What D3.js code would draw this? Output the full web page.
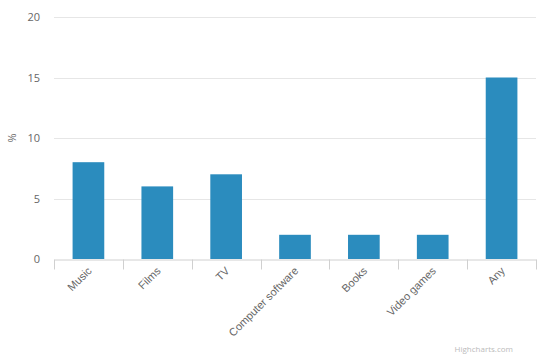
<!DOCTYPE html>
<html>
<head>
<meta charset="utf-8">
<script src="https://cdn.jsdelivr.net/npm/d3@7"></script>
<style>
  body { margin: 0; background: #fff; }
  svg { font-family: "Open Sans", sans-serif; display: block; }
</style>
</head>
<body>
<script>
const categories = ["Music", "Films", "TV", "Computer software", "Books", "Video games", "Any"];
const values = [8, 6, 7, 2, 2, 2, 15];
const yTicks = [0, 5, 10, 15, 20];

const w = 547;
const h = 354;
const margin = { top: 17, right: 11, bottom: 95, left: 54 };

const svg = d3.select("body")
  .append("svg")
  .attr("width", w)
  .attr("height", h);

const xScale = d3.scaleBand()
  .domain(categories)
  .range([margin.left, w - margin.right])
  .paddingInner(0.54)
  .paddingOuter(0.27);

const yScale = d3.scaleLinear()
  .domain([0, 20])
  .range([h - margin.bottom, margin.top]);

// gridlines
svg.append("g")
  .selectAll("line")
  .data(yTicks.slice(1))
  .enter()
  .append("line")
  .attr("x1", margin.left)
  .attr("x2", w - margin.right)
  .attr("y1", d => Math.round(yScale(d)) + 0.5)
  .attr("y2", d => Math.round(yScale(d)) + 0.5)
  .attr("stroke", "#e6e6e6");

// y labels
svg.append("g")
  .selectAll("text")
  .data(yTicks)
  .enter()
  .append("text")
  .attr("x", 40)
  .attr("y", d => yScale(d) + 4)
  .attr("text-anchor", "end")
  .attr("fill", "#666")
  .style("font-size", "11px")
  .text(d => d);

svg.append("text")
  .attr("transform", "translate(16," + yScale(10) + ") rotate(-90)")
  .attr("text-anchor", "middle")
  .attr("fill", "#666")
  .style("font-size", "11px")
  .text("%");

// bars
svg.selectAll("rect")
  .data(values)
  .enter()
  .append("rect")
  .attr("x", (d, i) => xScale(categories[i]))
  .attr("y", d => yScale(d))
  .attr("width", xScale.bandwidth())
  .attr("height", d => yScale(0) - yScale(d))
  .attr("fill", "#2b8cbe");

// x axis
const xAxis = d3.axisBottom(xScale).tickSize(0).tickPadding(0);
const gx = svg.append("g")
  .attr("transform", "translate(0," + (yScale(0) + 0.5) + ")")
  .call(xAxis);
gx.select(".domain").attr("stroke", "#d0d0d0");
gx.selectAll(".tick text").remove();

const edges = d3.range(categories.length + 1).map(i => margin.left + i * (w - margin.left - margin.right) / categories.length);
gx.selectAll(".edge")
  .data(edges)
  .enter()
  .append("line")
  .attr("x1", d => Math.round(d) + 0.5)
  .attr("x2", d => Math.round(d) + 0.5)
  .attr("y1", 0)
  .attr("y2", 10)
  .attr("stroke", "#d0d0d0");

gx.selectAll(".lbl")
  .data(categories)
  .enter()
  .append("text")
  .attr("text-anchor", "end")
  .attr("fill", "#666")
  .style("font-size", "11px")
  .attr("transform", d => "translate(" + (xScale(d) + xScale.bandwidth() / 2 + 4) + ",12) rotate(-45)")
  .text(d => d);

// credit
svg.append("text")
  .attr("x", w - 34)
  .attr("y", h - 2)
  .attr("text-anchor", "end")
  .attr("fill", "#bbb")
  .style("font-size", "8px")
  .text("Highcharts.com");
</script>
</body>
</html>
